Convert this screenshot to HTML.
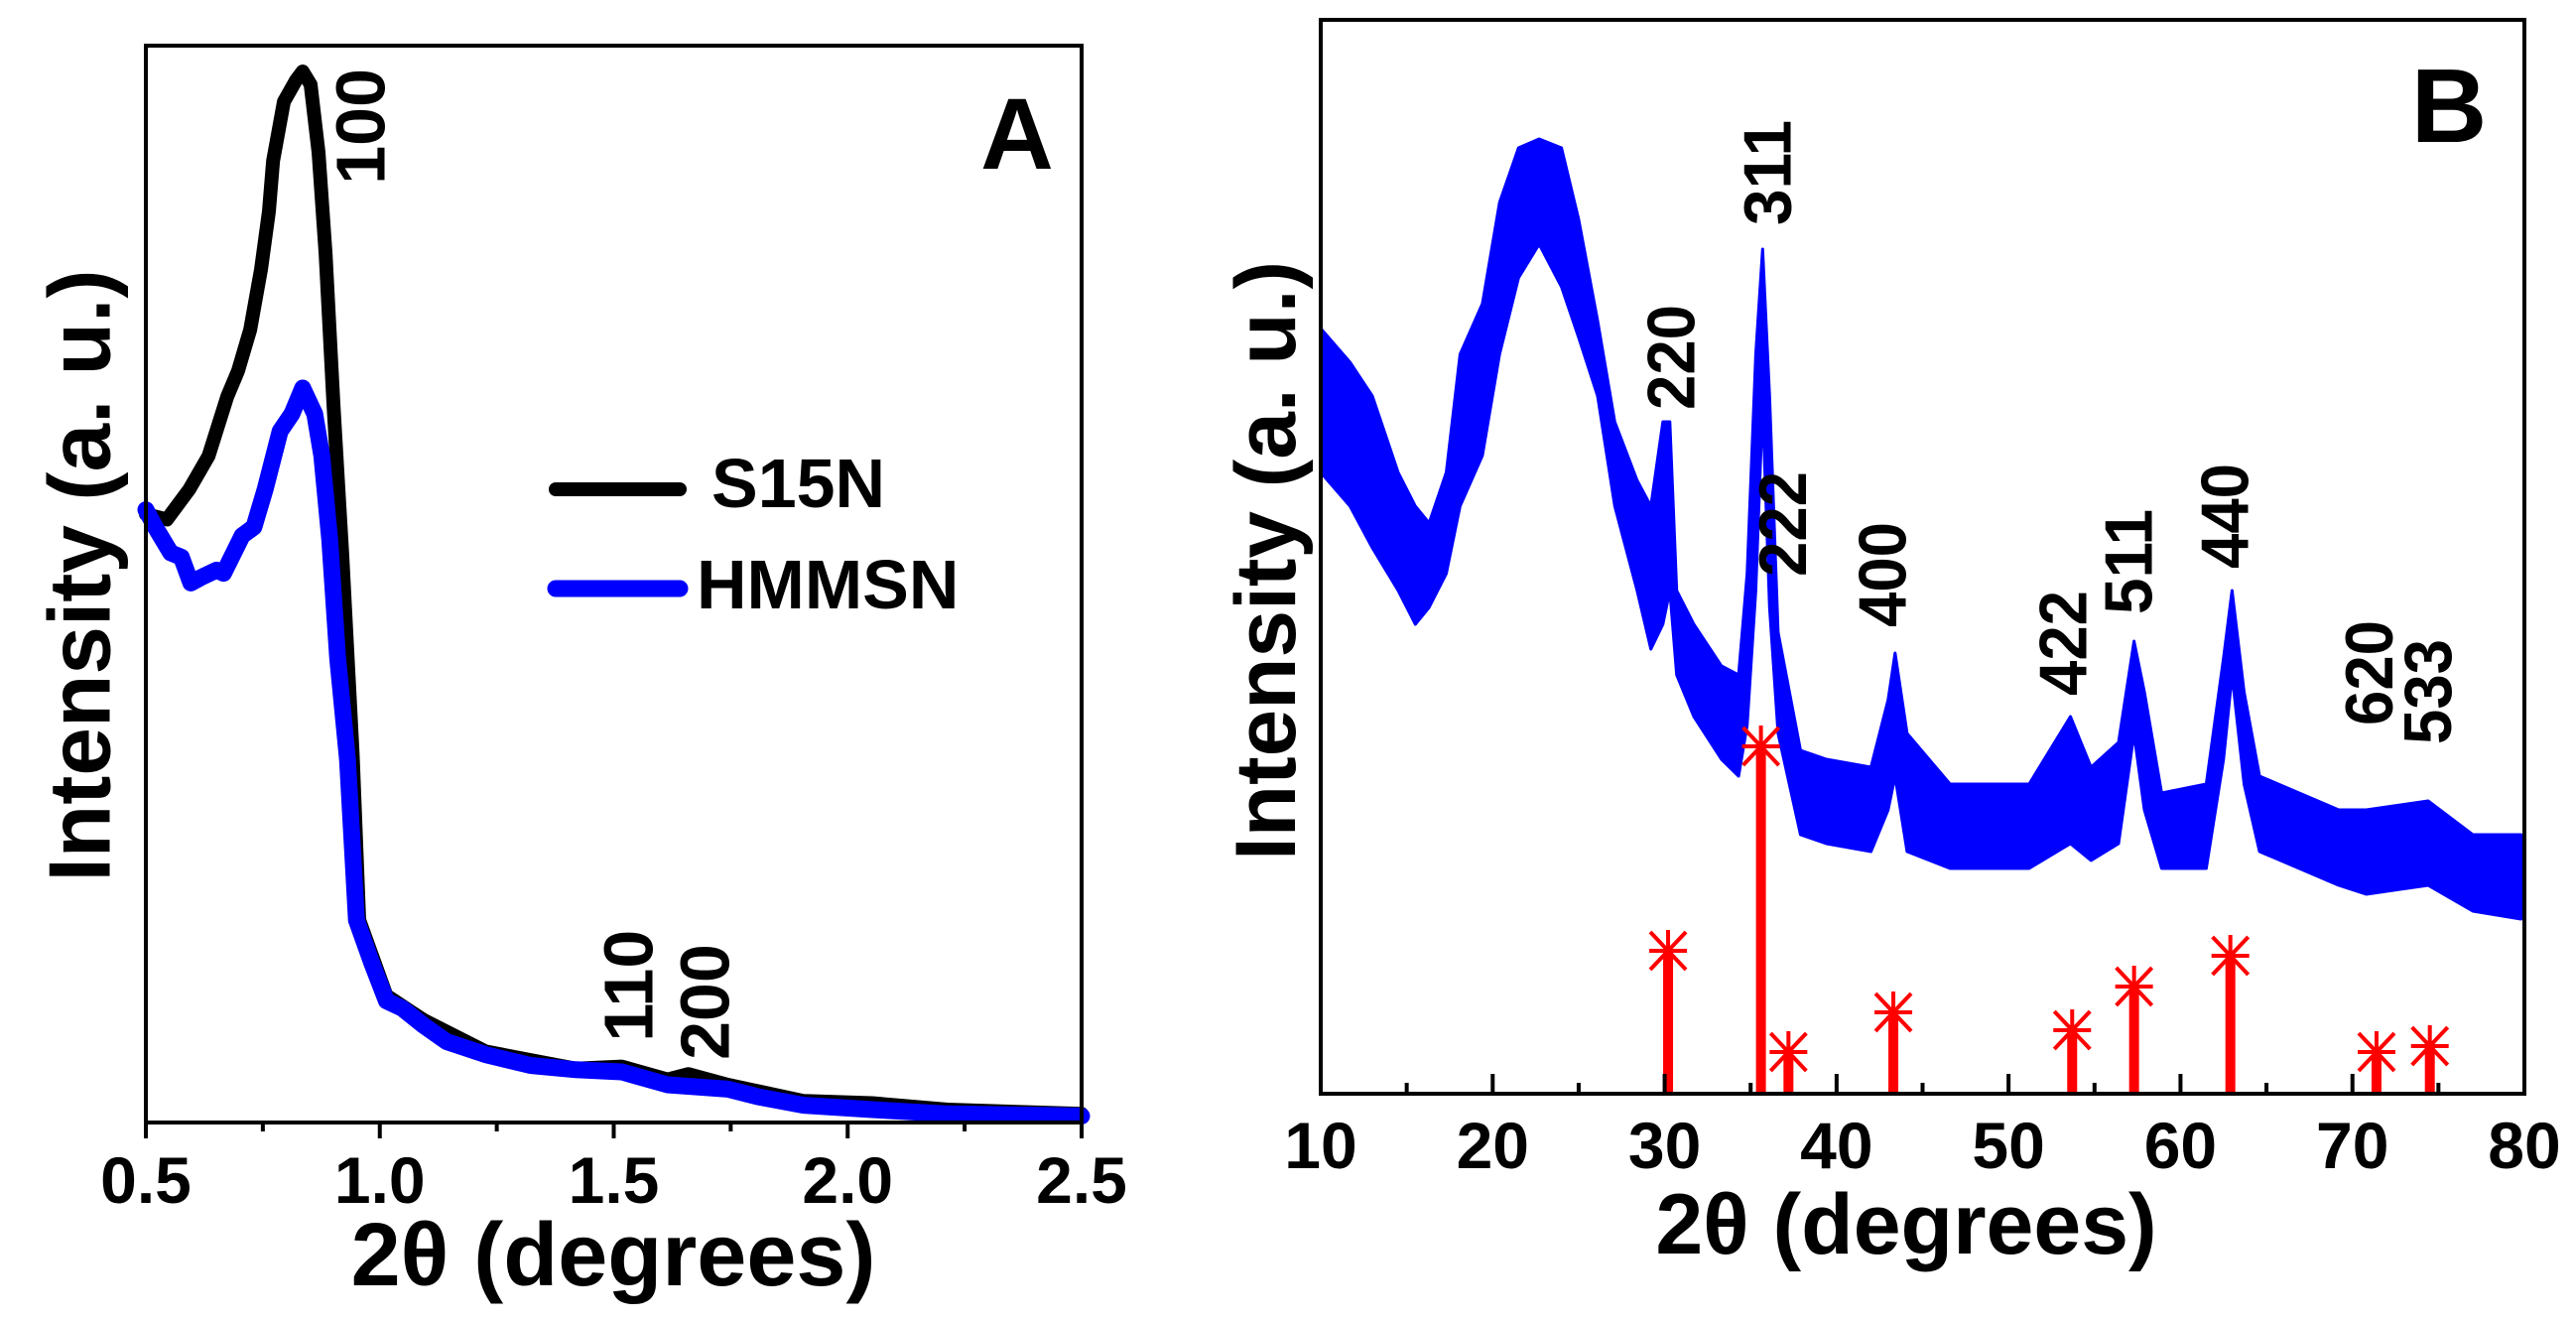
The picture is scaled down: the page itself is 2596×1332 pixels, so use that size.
<!DOCTYPE html>
<html><head><meta charset="utf-8"><style>
html,body{margin:0;padding:0;background:#fff;}
svg{display:block;font-family:"Liberation Sans",Arial,sans-serif;font-weight:bold;}
</style></head><body>
<svg id="fig" width="2596" height="1332" viewBox="0 0 2596 1332" xmlns="http://www.w3.org/2000/svg">
<g id="panelA"></g>
<g id="panelB"></g>
</svg>
<script>
// ---------- Panel A data ----------
const aTickValues = [0.5, 1.0, 1.5, 2.0, 2.5];
const aTickLabels = ["0.5", "1.0", "1.5", "2.0", "2.5"];
const aMinorTicks = [0.75, 1.25, 1.75, 2.25];
const s15nX = [0.50,0.545,0.593,0.634,0.674,0.697,0.723,0.746,0.763,0.772,0.795,0.821,0.835,0.852,0.869,0.884,0.901,0.920,0.942,0.956,1.014,1.094,1.226,1.322,1.419,1.517,1.615,1.66,1.744,1.906,2.052,2.213,2.5];
const s15nY = [0.565,0.560,0.588,0.619,0.674,0.698,0.736,0.792,0.846,0.893,0.948,0.968,0.976,0.964,0.901,0.807,0.666,0.526,0.342,0.188,0.118,0.095,0.066,0.058,0.050,0.052,0.040,0.045,0.035,0.020,0.018,0.012,0.008];
const hmmsnX = [0.50,0.52,0.553,0.576,0.596,0.617,0.651,0.666,0.706,0.731,0.755,0.787,0.812,0.835,0.861,0.876,0.893,0.910,0.931,0.950,0.982,1.014,1.048,1.094,1.143,1.226,1.322,1.419,1.517,1.615,1.744,1.808,1.906,2.052,2.213,2.50];
const hmmsnY = [0.569,0.553,0.529,0.525,0.501,0.506,0.513,0.510,0.545,0.553,0.588,0.642,0.658,0.682,0.658,0.619,0.541,0.431,0.337,0.188,0.149,0.113,0.106,0.090,0.075,0.063,0.053,0.049,0.047,0.035,0.031,0.024,0.016,0.012,0.008,0.006];
const aPeakLabels = ["100", "110", "200"];
const aPeakX = [0.959, 1.532, 1.695];
const aPeakY = [0.925, 0.127, 0.112];

// ---------- Panel B data ----------
const bTickValues = [10, 20, 30, 40, 50, 60, 70, 80];
const bTickLabels = ["10", "20", "30", "40", "50", "60", "70", "80"];
const bMinorTicks = [15, 25, 35, 45, 55, 65, 75];
const bX = [10,11.7,13,14.5,15.5,16.3,17.3,18.1,19.4,20.4,21.5,22.7,24,25,26.1,27.1,28.4,29.2,29.9,30.3,30.7,31.7,33.3,34.3,34.8,35.3,35.7,36.1,36.6,37.9,39.4,42,43,43.4,44.1,46.6,51.2,53.6,54.8,56.4,57.3,57.9,58.9,61.5,62.5,63,63.7,64.6,69.2,70.8,74.4,77,79.8];
const bUpper = [771,737,703,626,592,575,626,745,796,898,953,962,953,881,779,677,618,592,677,677,507,473,431,422,524,745,851,703,465,346,337,329,397,444,363,312,312,380,329,354,456,405,303,312,439,507,405,320,286,286,295,261,261];
const bLower = [626,592,550,507,473,490,524,592,643,745,822,856,813,762,703,592,507,448,473,507,422,380,337,320,371,507,694,490,363,261,252,244,286,320,244,227,227,252,235,252,363,286,227,227,337,422,312,244,210,201,210,184,176];
const refX = [30.2, 35.6, 37.2, 43.3, 53.7, 57.3, 62.9, 71.4, 74.5];
const refY = [144, 350, 42, 82, 64, 108, 139, 42, 48];
const bPeakLabels = ["220","311","222","400","422","511","440","620","533"];
const bPeakX = [30.4, 36.0, 36.9, 42.7, 53.2, 57.0, 62.6, 71.0, 74.4];
const bPeakY = [742, 928, 574, 523, 454, 536, 582, 424, 405];

const NS = "http://www.w3.org/2000/svg";
function mk(parent, tag, attrs, text) {
  const el = document.createElementNS(NS, tag);
  for (const k in attrs) el.setAttribute(k, attrs[k]);
  if (text !== undefined) el.textContent = text;
  parent.appendChild(el);
  return el;
}

// ---------- Panel A ----------
const A = document.getElementById('panelA');
const aL = 147, aR = 1090, aT = 46, aB = 1131;
const ax = v => aL + (v - 0.5) / 2.0 * (aR - aL);
const ay = v => aB - v * (aB - aT);

function pathFrom(xs, ys, fx, fy) {
  return xs.map((x, i) => (i ? 'L' : 'M') + fx(x).toFixed(1) + ',' + fy(ys[i]).toFixed(1)).join(' ');
}
let p = mk(A, 'path', {d: pathFrom(s15nX, s15nY, ax, ay), fill: 'none', stroke: '#000', 'stroke-width': 14, 'stroke-linejoin': 'round', 'stroke-linecap': 'round'});


p = mk(A, 'path', {d: pathFrom(hmmsnX, hmmsnY, ax, ay), fill: 'none', stroke: '#0000ff', 'stroke-width': 17, 'stroke-linejoin': 'round', 'stroke-linecap': 'round'});



p = mk(A, 'rect', {x: aL, y: aT, width: aR - aL, height: aB - aT, fill: 'none', stroke: '#000', 'stroke-width': 4});


aTickValues.forEach((v, i) => {
  const t = mk(A, 'line', {x1: ax(v), x2: ax(v), y1: aB, y2: aB + 16, stroke: '#000', 'stroke-width': 4});
  
  
  const l = mk(A, 'text', {x: ax(v), y: 1212, 'font-size': 66, 'text-anchor': 'middle'}, aTickLabels[i]);
  
  
});
aMinorTicks.forEach(v => {
  const t = mk(A, 'line', {x1: ax(v), x2: ax(v), y1: aB, y2: aB + 9, stroke: '#000', 'stroke-width': 4});
  
  
});
aPeakLabels.forEach((s, i) => {
  const cx = ax(aPeakX[i]), cy = ay(aPeakY[i]);
  const t = mk(A, 'text', {x: cx, y: cy, 'font-size': 70, 'text-anchor': 'middle', 'dominant-baseline': 'central', transform: `rotate(-90 ${cx} ${cy})`}, s);
  
  
});
p = mk(A, 'text', {x: 1025, y: 170, 'font-size': 102, 'text-anchor': 'middle'}, 'A');


p = mk(A, 'text', {x: 618, y: 1295, 'font-size': 90, 'text-anchor': 'middle'}, '2θ (degrees)');


p = mk(A, 'text', {x: 80, y: 580, 'font-size': 88, 'text-anchor': 'middle', 'dominant-baseline': 'central', transform: 'rotate(-90 80 580)', textLength: 617, lengthAdjust: 'spacingAndGlyphs'}, 'Intensity (a. u.)');


// legend
p = mk(A, 'line', {x1: 560, x2: 685, y1: 493, y2: 493, stroke: '#000', 'stroke-width': 14, 'stroke-linecap': 'round'});


p = mk(A, 'text', {x: 717, y: 511, 'font-size': 70}, 'S15N');


p = mk(A, 'line', {x1: 560, x2: 685, y1: 593, y2: 593, stroke: '#0000ff', 'stroke-width': 17, 'stroke-linecap': 'round'});


p = mk(A, 'text', {x: 702, y: 613, 'font-size': 70}, 'HMMSN');



// ---------- Panel B ----------
const B = document.getElementById('panelB');
const bL = 1331, bR = 2544, bT = 20, bB = 1102;
const bx = v => bL + (v - 10) / 70 * (bR - bL);
const by = v => bB - v / 1082 * (bB - bT);

let band = 'M' + bX.map((x, i) => bx(x).toFixed(1) + ',' + by(bUpper[i]).toFixed(1)).join(' L');
for (let i = bX.length - 1; i >= 0; i--) band += ' L' + bx(bX[i]).toFixed(1) + ',' + by(bLower[i]).toFixed(1);
band += ' Z';
p = mk(B, 'path', {d: band, fill: '#0000ff', stroke: '#0000ff', 'stroke-width': 3, 'stroke-linejoin': 'round'});


p = mk(B, 'line', {x1: bx(80), x2: bx(80), y1: by(bLower[bLower.length - 1]), y2: 985, stroke: '#0000ff', 'stroke-width': 3});



refX.forEach((v, i) => {
  const cx = bx(v), cy = by(refY[i]);
  const g = mk(B, 'g', {});
  
  
  mk(g, 'rect', {x: cx - 5, y: cy, width: 10, height: bB - cy, fill: '#ff0000'});
  mk(g, 'path', {d: `M${cx-19},${cy} L${cx+19},${cy} M${cx},${cy-21} L${cx},${cy+21} M${cx-18},${cy-19} L${cx+18},${cy+19} M${cx-18},${cy+19} L${cx+18},${cy-19}`, stroke: '#ff0000', 'stroke-width': 4, fill: 'none'});
});

p = mk(B, 'rect', {x: bL, y: bT, width: bR - bL, height: bB - bT, fill: 'none', stroke: '#000', 'stroke-width': 4});


bTickValues.forEach((v, i) => {
  const t = mk(B, 'line', {x1: bx(v), x2: bx(v), y1: bB, y2: bB - 20, stroke: '#000', 'stroke-width': 4});
  
  
  const l = mk(B, 'text', {x: bx(v), y: 1177, 'font-size': 66, 'text-anchor': 'middle'}, bTickLabels[i]);
  
  
});
bMinorTicks.forEach(v => {
  const t = mk(B, 'line', {x1: bx(v), x2: bx(v), y1: bB, y2: bB - 11, stroke: '#000', 'stroke-width': 4});
  
  
});
bPeakLabels.forEach((s, i) => {
  const cx = bx(bPeakX[i]), cy = by(bPeakY[i]);
  const t = mk(B, 'text', {x: cx, y: cy, 'font-size': 68, 'text-anchor': 'middle', 'dominant-baseline': 'central', transform: `rotate(-90 ${cx} ${cy})`, textLength: 106, lengthAdjust: 'spacingAndGlyphs'}, s);
  
  
});
p = mk(B, 'text', {x: 2468, y: 143, 'font-size': 106, 'text-anchor': 'middle'}, 'B');


p = mk(B, 'text', {x: 1921, y: 1263, 'font-size': 86, 'text-anchor': 'middle'}, '2θ (degrees)');


p = mk(B, 'text', {x: 1276, y: 565, 'font-size': 86, 'text-anchor': 'middle', 'dominant-baseline': 'central', transform: 'rotate(-90 1276 565)', textLength: 604, lengthAdjust: 'spacingAndGlyphs'}, 'Intensity (a. u.)');


</script>
</body></html>
